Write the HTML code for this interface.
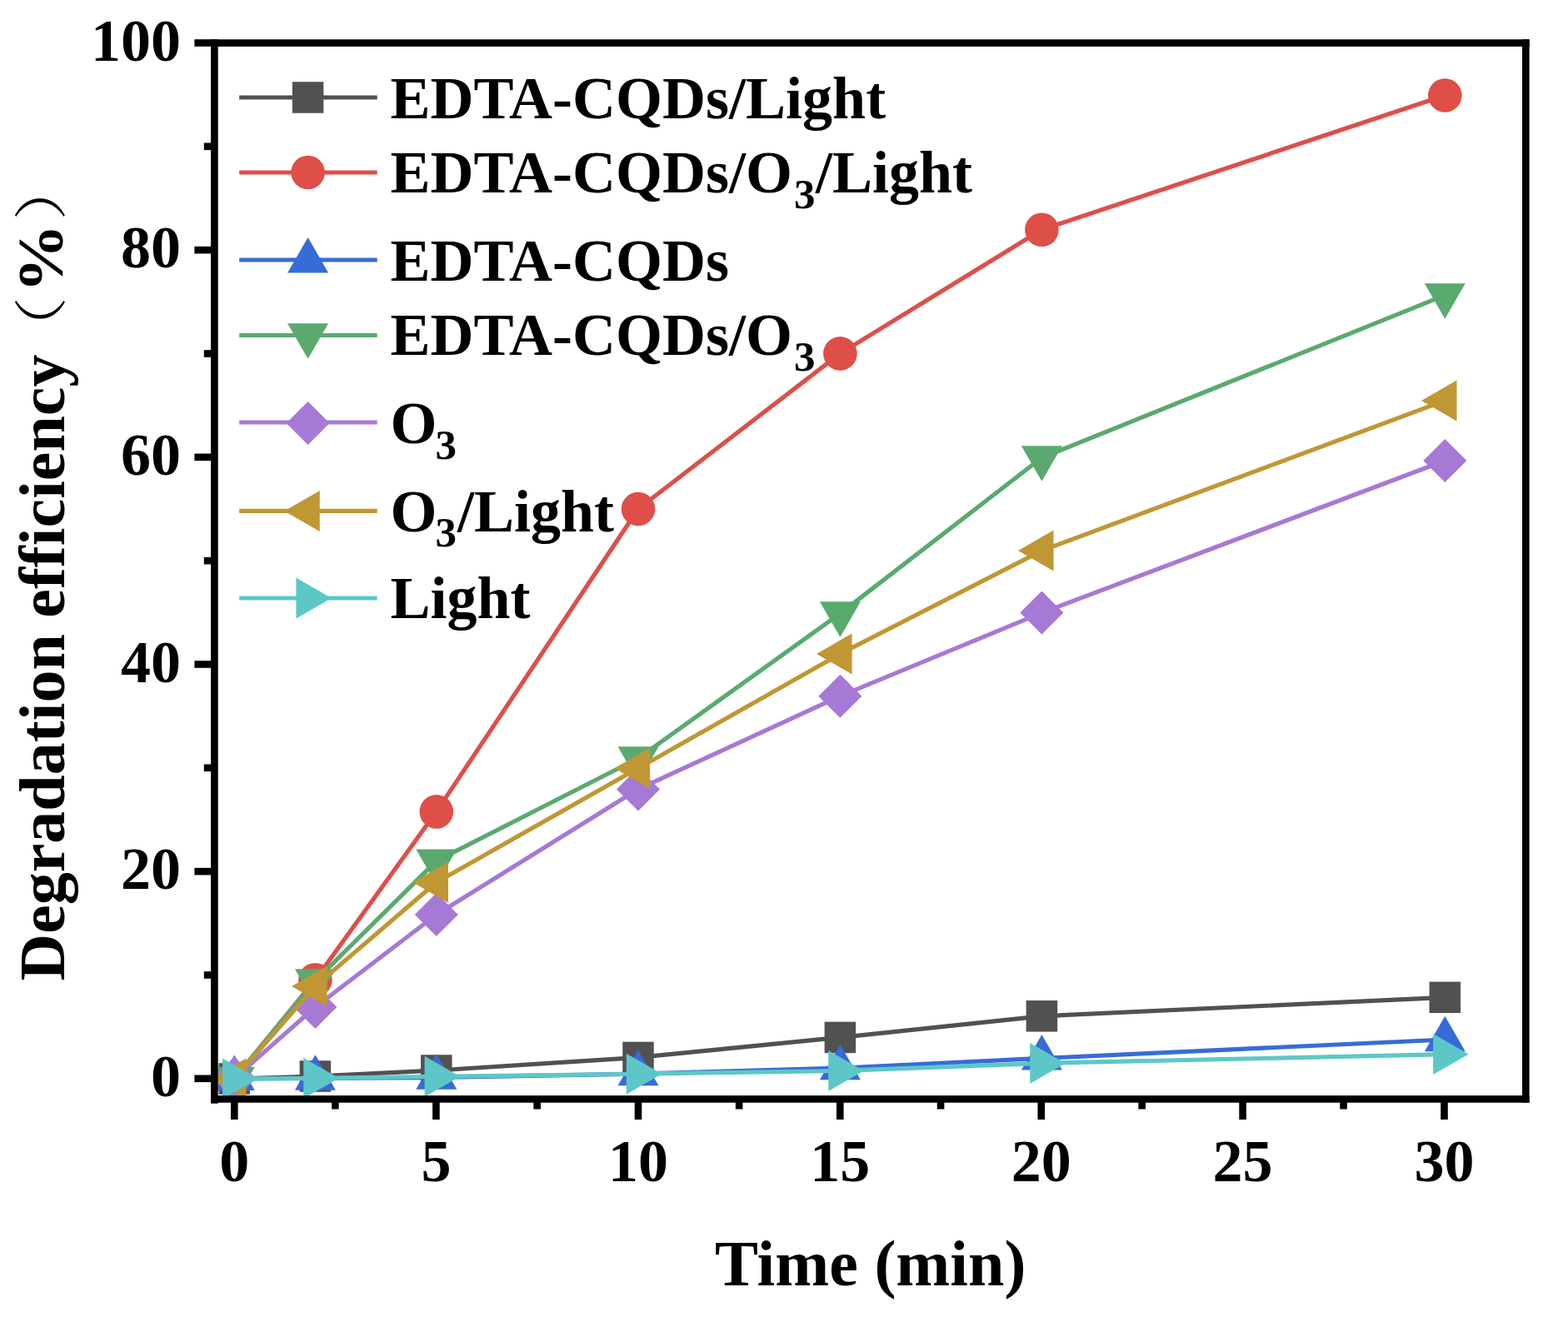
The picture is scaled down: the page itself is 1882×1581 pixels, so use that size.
<!DOCTYPE html>
<html><head><meta charset="utf-8"><title>Degradation efficiency chart</title>
<style>
html,body{margin:0;padding:0;background:#fff;}
body{width:1882px;height:1581px;overflow:hidden;}
svg{display:block;position:absolute;left:0;top:0;}
text{font-kerning:normal;}
</style></head>
<body>
<svg width="1882" height="1581" viewBox="0 0 1882 1581">
<rect width="1882" height="1581" fill="#fff"/>
<defs><clipPath id="pc"><rect x="261.7" y="55.9" width="1565.3" height="1259.2"/></clipPath></defs>
<g clip-path="url(#pc)">
<polyline points="281.30,1295.00 378.40,1292.00 523.80,1285.00 766.00,1269.40 1008.40,1245.40 1250.40,1219.80 1734.30,1197.30" fill="none" stroke="#515151" stroke-width="5.2" stroke-linejoin="round"/>
<rect x="262.55" y="1276.25" width="37.5" height="37.5" fill="#515151"/>
<rect x="359.65" y="1273.25" width="37.5" height="37.5" fill="#515151"/>
<rect x="505.05" y="1266.25" width="37.5" height="37.5" fill="#515151"/>
<rect x="747.25" y="1250.65" width="37.5" height="37.5" fill="#515151"/>
<rect x="989.65" y="1226.65" width="37.5" height="37.5" fill="#515151"/>
<rect x="1231.65" y="1201.05" width="37.5" height="37.5" fill="#515151"/>
<rect x="1715.55" y="1178.55" width="37.5" height="37.5" fill="#515151"/>
<polyline points="281.30,1295.00 378.40,1176.20 523.80,974.40 766.00,611.00 1008.40,424.40 1250.40,275.80 1734.30,114.50" fill="none" stroke="#DE4F48" stroke-width="5.2" stroke-linejoin="round"/>
<circle cx="281.30" cy="1295.00" r="20.3" fill="#DE4F48"/>
<circle cx="378.40" cy="1176.20" r="20.3" fill="#DE4F48"/>
<circle cx="523.80" cy="974.40" r="20.3" fill="#DE4F48"/>
<circle cx="766.00" cy="611.00" r="20.3" fill="#DE4F48"/>
<circle cx="1008.40" cy="424.40" r="20.3" fill="#DE4F48"/>
<circle cx="1250.40" cy="275.80" r="20.3" fill="#DE4F48"/>
<circle cx="1734.30" cy="114.50" r="20.3" fill="#DE4F48"/>
<polyline points="281.30,1294.80 378.40,1294.50 523.80,1293.50 766.00,1289.10 1008.40,1282.10 1250.40,1270.40 1734.30,1248.00" fill="none" stroke="#376BD8" stroke-width="5.2" stroke-linejoin="round"/>
<path d="M281.30 1266.47L305.80 1308.97L256.80 1308.97Z" fill="#376BD8"/>
<path d="M378.40 1266.17L402.90 1308.67L353.90 1308.67Z" fill="#376BD8"/>
<path d="M523.80 1265.17L548.30 1307.67L499.30 1307.67Z" fill="#376BD8"/>
<path d="M766.00 1260.77L790.50 1303.27L741.50 1303.27Z" fill="#376BD8"/>
<path d="M1008.40 1253.77L1032.90 1296.27L983.90 1296.27Z" fill="#376BD8"/>
<path d="M1250.40 1242.07L1274.90 1284.57L1225.90 1284.57Z" fill="#376BD8"/>
<path d="M1734.30 1219.67L1758.80 1262.17L1709.80 1262.17Z" fill="#376BD8"/>
<polyline points="281.30,1295.00 378.40,1177.50 523.80,1033.60 766.00,910.40 1008.40,736.50 1250.40,549.50 1734.30,354.40" fill="none" stroke="#5AAA70" stroke-width="5.2" stroke-linejoin="round"/>
<path d="M281.30 1323.33L305.80 1280.83L256.80 1280.83Z" fill="#5AAA70"/>
<path d="M378.40 1205.83L402.90 1163.33L353.90 1163.33Z" fill="#5AAA70"/>
<path d="M523.80 1061.93L548.30 1019.43L499.30 1019.43Z" fill="#5AAA70"/>
<path d="M766.00 938.73L790.50 896.23L741.50 896.23Z" fill="#5AAA70"/>
<path d="M1008.40 764.83L1032.90 722.33L983.90 722.33Z" fill="#5AAA70"/>
<path d="M1250.40 577.83L1274.90 535.33L1225.90 535.33Z" fill="#5AAA70"/>
<path d="M1734.30 382.73L1758.80 340.23L1709.80 340.23Z" fill="#5AAA70"/>
<polyline points="281.30,1294.50 378.40,1209.00 523.80,1098.00 766.00,947.40 1008.40,835.70 1250.40,735.60 1734.30,553.00" fill="none" stroke="#A779D6" stroke-width="5.2" stroke-linejoin="round"/>
<path d="M281.30 1268.50L307.30 1294.50L281.30 1320.50L255.30 1294.50Z" fill="#A779D6"/>
<path d="M378.40 1183.00L404.40 1209.00L378.40 1235.00L352.40 1209.00Z" fill="#A779D6"/>
<path d="M523.80 1072.00L549.80 1098.00L523.80 1124.00L497.80 1098.00Z" fill="#A779D6"/>
<path d="M766.00 921.40L792.00 947.40L766.00 973.40L740.00 947.40Z" fill="#A779D6"/>
<path d="M1008.40 809.70L1034.40 835.70L1008.40 861.70L982.40 835.70Z" fill="#A779D6"/>
<path d="M1250.40 709.60L1276.40 735.60L1250.40 761.60L1224.40 735.60Z" fill="#A779D6"/>
<path d="M1734.30 527.00L1760.30 553.00L1734.30 579.00L1708.30 553.00Z" fill="#A779D6"/>
<polyline points="281.30,1295.00 378.40,1183.90 523.80,1059.20 766.00,922.20 1008.40,784.90 1250.40,661.10 1734.30,480.90" fill="none" stroke="#C19734" stroke-width="5.2" stroke-linejoin="round"/>
<path d="M252.97 1295.00L295.47 1270.50L295.47 1319.50Z" fill="#C19734"/>
<path d="M350.07 1183.90L392.57 1159.40L392.57 1208.40Z" fill="#C19734"/>
<path d="M495.47 1059.20L537.97 1034.70L537.97 1083.70Z" fill="#C19734"/>
<path d="M737.67 922.20L780.17 897.70L780.17 946.70Z" fill="#C19734"/>
<path d="M980.07 784.90L1022.57 760.40L1022.57 809.40Z" fill="#C19734"/>
<path d="M1222.07 661.10L1264.57 636.60L1264.57 685.60Z" fill="#C19734"/>
<path d="M1705.97 480.90L1748.47 456.40L1748.47 505.40Z" fill="#C19734"/>
<polyline points="281.30,1295.00 378.40,1294.30 523.80,1292.30 766.00,1289.20 1008.40,1285.50 1250.40,1276.40 1734.30,1265.60" fill="none" stroke="#5DC7C8" stroke-width="5.2" stroke-linejoin="round"/>
<path d="M309.63 1295.00L267.13 1270.50L267.13 1319.50Z" fill="#5DC7C8"/>
<path d="M406.73 1294.30L364.23 1269.80L364.23 1318.80Z" fill="#5DC7C8"/>
<path d="M552.13 1292.30L509.63 1267.80L509.63 1316.80Z" fill="#5DC7C8"/>
<path d="M794.33 1289.20L751.83 1264.70L751.83 1313.70Z" fill="#5DC7C8"/>
<path d="M1036.73 1285.50L994.23 1261.00L994.23 1310.00Z" fill="#5DC7C8"/>
<path d="M1278.73 1276.40L1236.23 1251.90L1236.23 1300.90Z" fill="#5DC7C8"/>
<path d="M1762.63 1265.60L1720.13 1241.10L1720.13 1290.10Z" fill="#5DC7C8"/>
</g>
<g fill="#000">
<rect x="253.1" y="47.3" width="1582.5" height="8.6"/>
<rect x="253.1" y="1315.1" width="1582.5" height="8.6"/>
<rect x="253.1" y="47.3" width="8.6" height="1277.4"/>
<rect x="1827.0" y="47.3" width="8.6" height="1276.4"/>
<rect x="233.4" y="1290.50" width="20.7" height="8.6"/>
<rect x="244.8" y="1166.17" width="9.3" height="8.6"/>
<rect x="233.4" y="1041.84" width="20.7" height="8.6"/>
<rect x="244.8" y="917.51" width="9.3" height="8.6"/>
<rect x="233.4" y="793.18" width="20.7" height="8.6"/>
<rect x="244.8" y="668.85" width="9.3" height="8.6"/>
<rect x="233.4" y="544.52" width="20.7" height="8.6"/>
<rect x="244.8" y="420.19" width="9.3" height="8.6"/>
<rect x="233.4" y="295.86" width="20.7" height="8.6"/>
<rect x="244.8" y="171.53" width="9.3" height="8.6"/>
<rect x="233.4" y="47.20" width="20.7" height="8.6"/>
<rect x="277.00" y="1322.7" width="8.6" height="21.3"/>
<rect x="398.05" y="1322.7" width="8.6" height="8.8"/>
<rect x="519.10" y="1322.7" width="8.6" height="21.3"/>
<rect x="640.40" y="1322.7" width="8.6" height="8.8"/>
<rect x="761.70" y="1322.7" width="8.6" height="21.3"/>
<rect x="882.85" y="1322.7" width="8.6" height="8.8"/>
<rect x="1004.00" y="1322.7" width="8.6" height="21.3"/>
<rect x="1124.75" y="1322.7" width="8.6" height="8.8"/>
<rect x="1245.50" y="1322.7" width="8.6" height="21.3"/>
<rect x="1366.40" y="1322.7" width="8.6" height="8.8"/>
<rect x="1487.30" y="1322.7" width="8.6" height="21.3"/>
<rect x="1608.25" y="1322.7" width="8.6" height="8.8"/>
<rect x="1729.20" y="1322.7" width="8.6" height="21.3"/>
</g>
<g font-family="'Liberation Serif','Times New Roman',serif" font-weight="bold" font-size="72" text-anchor="end" fill="#000">
<text x="217.0" y="1316.0">0</text>
<text x="217.0" y="1067.3">20</text>
<text x="217.0" y="818.7">40</text>
<text x="217.0" y="570.0">60</text>
<text x="217.0" y="321.4">80</text>
<text x="217.0" y="72.7">100</text>
</g>
<g font-family="'Liberation Serif','Times New Roman',serif" font-weight="bold" font-size="72" text-anchor="middle" fill="#000">
<text x="281.3" y="1418.3">0</text>
<text x="523.4" y="1418.3">5</text>
<text x="766.0" y="1418.3">10</text>
<text x="1008.3" y="1418.3">15</text>
<text x="1249.8" y="1418.3">20</text>
<text x="1491.6" y="1418.3">25</text>
<text x="1733.5" y="1418.3">30</text>
</g>
<text font-family="'Liberation Serif','Times New Roman',serif" font-weight="bold" font-size="78" x="858.0" y="1543.2" fill="#000">Time (min)</text>
<text font-family="'Liberation Serif','Times New Roman',serif" font-weight="bold" font-size="78" transform="translate(76.5,1177.2) rotate(-90)" x="0" y="0" fill="#000">Degradation efficiency</text>
<text font-family="'Liberation Serif','Noto Serif CJK SC','Noto Serif CJK JP',serif" font-weight="300" font-size="64.1" transform="translate(76.5,1177.2) rotate(-90) translate(745.0,-4.8) scale(1.187,1)" fill="#000">（</text>
<text font-family="'Liberation Serif','Times New Roman',serif" font-weight="bold" font-size="77.3" transform="translate(76.5,1177.2) rotate(-90) translate(825.7,-1.2) scale(1.072,1)" fill="#000">%</text>
<text font-family="'Liberation Serif','Noto Serif CJK SC','Noto Serif CJK JP',serif" font-weight="300" font-size="64.1" transform="translate(76.5,1177.2) rotate(-90) translate(912.5,-4.8) scale(1.187,1)" fill="#000">）</text>
<line x1="287.2" y1="117.0" x2="452.7" y2="117.0" stroke="#515151" stroke-width="5.2"/>
<rect x="350.85" y="98.25" width="37.5" height="37.5" fill="#515151"/>
<text font-family="'Liberation Serif','Times New Roman',serif" font-weight="bold" font-size="72" x="468.4" y="141.9" fill="#000">EDTA-CQDs/Light</text>
<line x1="287.2" y1="207.0" x2="452.7" y2="207.0" stroke="#DE4F48" stroke-width="5.2"/>
<circle cx="369.60" cy="207.00" r="20.3" fill="#DE4F48"/>
<text font-family="'Liberation Serif','Times New Roman',serif" font-weight="bold" font-size="72" x="468.4" y="231.4" fill="#000">EDTA-CQDs/O<tspan font-size="51" dx="1.8" dy="18.5">3</tspan><tspan dx="0.5" dy="-18.5">/Light</tspan></text>
<line x1="287.2" y1="312.0" x2="452.7" y2="312.0" stroke="#376BD8" stroke-width="5.2"/>
<path d="M369.60 284.97L394.10 327.47L345.10 327.47Z" fill="#376BD8"/>
<text font-family="'Liberation Serif','Times New Roman',serif" font-weight="bold" font-size="72" x="468.4" y="337.2" fill="#000">EDTA-CQDs</text>
<line x1="287.2" y1="402.5" x2="452.7" y2="402.5" stroke="#5AAA70" stroke-width="5.2"/>
<path d="M369.60 430.83L394.10 388.33L345.10 388.33Z" fill="#5AAA70"/>
<text font-family="'Liberation Serif','Times New Roman',serif" font-weight="bold" font-size="72" x="468.4" y="426.3" fill="#000">EDTA-CQDs/O<tspan font-size="51" dx="1.8" dy="18.5">3</tspan></text>
<line x1="287.2" y1="507.0" x2="452.7" y2="507.0" stroke="#A779D6" stroke-width="5.2"/>
<path d="M369.60 481.90L395.60 507.90L369.60 533.90L343.60 507.90Z" fill="#A779D6"/>
<text font-family="'Liberation Serif','Times New Roman',serif" font-weight="bold" font-size="72" x="468.4" y="532.4" fill="#000">O<tspan font-size="51" dx="-2" dy="18.5">3</tspan></text>
<line x1="287.2" y1="613.4" x2="452.7" y2="613.4" stroke="#C19734" stroke-width="5.2"/>
<path d="M341.27 613.40L383.77 588.90L383.77 637.90Z" fill="#C19734"/>
<text font-family="'Liberation Serif','Times New Roman',serif" font-weight="bold" font-size="72" x="468.4" y="637.5" fill="#000">O<tspan font-size="51" dx="-2" dy="18.5">3</tspan><tspan dx="1" dy="-18.5">/Light</tspan></text>
<line x1="287.2" y1="718.0" x2="452.7" y2="718.0" stroke="#5DC7C8" stroke-width="5.2"/>
<path d="M397.93 718.00L355.43 693.50L355.43 742.50Z" fill="#5DC7C8"/>
<text font-family="'Liberation Serif','Times New Roman',serif" font-weight="bold" font-size="72" x="468.4" y="741.6" fill="#000">Light</text>
</svg>
</body></html>
